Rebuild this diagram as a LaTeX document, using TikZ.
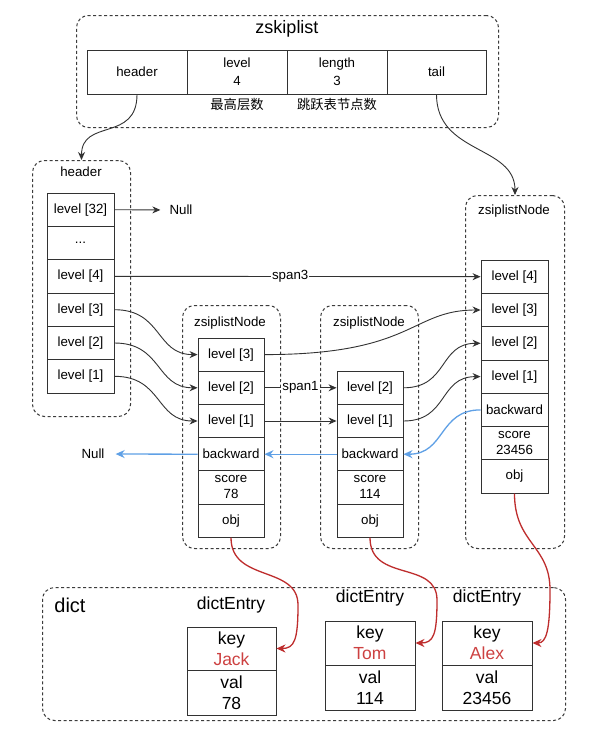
\documentclass[tikz,border=0pt]{standalone}
\usepackage{fontspec}
\setmainfont{Liberation Sans}
\newfontfamily\cjk{Noto Sans CJK SC}
\usetikzlibrary{arrows.meta}
\definecolor{ln}{RGB}{50,50,50}
\definecolor{dsh}{RGB}{60,60,60}
\definecolor{bl}{RGB}{95,160,230}
\definecolor{rd}{RGB}{190,45,45}
\definecolor{rdt}{RGB}{205,65,65}
\begin{document}
\begin{tikzpicture}[x=1pt,y=-1pt,
  grp/.style={draw=dsh, dash pattern=on 3pt off 2.5pt, rounded corners=12pt, line width=1pt, anchor=north west, inner sep=0pt},
  cell/.style={draw=ln, line width=0.9pt, minimum width=67pt, minimum height=33.3pt, inner sep=0pt, align=center, font=\fontsize{13.3}{16}\selectfont},
  zcell/.style={cell, minimum width=100pt, minimum height=44pt, font=\fontsize{13.3}{18}\selectfont},
  dcell/.style={draw=ln, line width=0.9pt, minimum width=89pt, inner sep=0pt, align=center, font=\fontsize{17.5}{21}\selectfont},
  lbl/.style={inner sep=0pt, font=\fontsize{13.3}{16}\selectfont},
  big/.style={inner sep=0pt, font=\fontsize{17.5}{21}\selectfont},
  arr/.style={draw=ln, line width=0.9pt, -{Stealth[length=8pt,width=7pt]}},
  barr/.style={draw=bl, line width=1.3pt, -{Stealth[length=9pt,width=8pt]}},
  rarr/.style={draw=rd, line width=1.3pt, -{Stealth[length=9pt,width=8pt]}}
]
\useasboundingbox (0,0) rectangle (591,736);
\fill[white] (0,0) rectangle (591,736);

% zskiplist
\node[grp, minimum width=422pt, minimum height=112pt] (zsl) at (76,15) {};
\node[inner sep=0pt, font=\fontsize{18}{20}\selectfont] (ztitle) at (287,29) {zskiplist};
\node[zcell] (zh) at (137,72) {header};
\node[zcell] (zl) at (237,72) {level\\4};
\node[zcell] (zn) at (337,72) {length\\3};
\node[zcell, minimum width=99pt] (zt) at (436.5,72) {tail};
\node[lbl] (zlc) at (237,104) {\cjk 最高层数};
\node[lbl] (znc) at (337,104) {\cjk 跳跃表节点数};

% header group
\node[grp, minimum width=98pt, minimum height=256pt] (hdr) at (32,160) {};
\node[lbl] (hdrl) at (81,172) {header};
\node[cell] (h32) at (80.5,209.7) {level [32]};
\node[cell] (hd) at (80.5,243) {...};
\node[cell] (h4) at (80.5,276.3) {level [4]};
\node[cell] (h3) at (80.5,309.7) {level [3]};
\node[cell] (h2) at (80.5,343) {level [2]};
\node[cell] (h1) at (80.5,376.3) {level [1]};
\node[lbl] (null1) at (181,210) {Null};

% node 1
\node[grp, minimum width=98pt, minimum height=243pt] (n1) at (182,305) {};
\node[lbl] (n1l) at (230,323) {zsiplistNode};
\node[cell, minimum width=66pt, minimum height=33.2pt] (a3) at (231,354.6) {level [3]};
\node[cell, minimum width=66pt, minimum height=33.2pt] (a2) at (231,387.8) {level [2]};
\node[cell, minimum width=66pt, minimum height=33.2pt] (a1) at (231,421) {level [1]};
\node[cell, minimum width=66pt, minimum height=33.2pt] (ab) at (231,454.2) {backward};
\node[cell, minimum width=66pt, minimum height=33.2pt] (as) at (231,487.4) {score\\78};
\node[cell, minimum width=66pt, minimum height=33.2pt] (ao) at (231,520.6) {obj};
\node[lbl] (null2) at (93,454) {Null};

% node 2
\node[grp, minimum width=98pt, minimum height=243pt] (n2) at (320,305) {};
\node[lbl] (n2l) at (369,323) {zsiplistNode};
\node[cell, minimum width=66pt, minimum height=33.2pt] (b2) at (370,387.8) {level [2]};
\node[cell, minimum width=66pt, minimum height=33.2pt] (b1) at (370,421) {level [1]};
\node[cell, minimum width=66pt, minimum height=33.2pt] (bb) at (370,454.2) {backward};
\node[cell, minimum width=66pt, minimum height=33.2pt] (bs) at (370,487.4) {score\\114};
\node[cell, minimum width=66pt, minimum height=33.2pt] (bo) at (370,520.6) {obj};

% node 3 (tail)
\node[grp, minimum width=99pt, minimum height=353pt] (n3) at (465,195) {};
\node[lbl] (n3l) at (514,211) {zsiplistNode};
\node[cell] (c4) at (514.5,276.7) {level [4]};
\node[cell] (c3) at (514.5,310) {level [3]};
\node[cell] (c2) at (514.5,343.3) {level [2]};
\node[cell] (c1) at (514.5,376.6) {level [1]};
\node[cell] (cb) at (514.5,409.9) {backward};
\node[cell] (cs) at (514.5,443.2) {score\\23456};
\node[cell] (co) at (514.5,476.5) {obj};

% dict
\node[grp, minimum width=523pt, minimum height=133pt] (dict) at (42,587) {};
\node[inner sep=0pt, font=\fontsize{20}{22}\selectfont] (dictl) at (70,605) {dict};
\node[big] (de1) at (231,605) {dictEntry};
\node[big] (de2) at (370,598) {dictEntry};
\node[big] (de3) at (487,598) {dictEntry};
\node[dcell, minimum height=43pt] (jk) at (231.5,648.5) {key\\\textcolor{rdt}{Jack}};
\node[dcell, minimum height=45pt] (jv) at (231.5,692.5) {val\\78};
\node[dcell, minimum width=90pt, minimum height=44pt] (tk) at (370,643) {key\\\textcolor{rdt}{Tom}};
\node[dcell, minimum width=90pt, minimum height=45pt] (tv) at (370,687.5) {val\\114};
\node[dcell, minimum width=90pt, minimum height=44pt] (ak) at (487,643) {key\\\textcolor{rdt}{Alex}};
\node[dcell, minimum width=90pt, minimum height=45pt] (av) at (487,687.5) {val\\23456};

% black connectors
\draw[arr] (zh.south) .. controls +(0,48) and +(0,-42) .. (hdr.north);
\draw[arr] (zt.south) .. controls +(0,60) and +(0,-50) .. (n3.north);
\draw[arr, shorten >=9pt] (h32.east) -- (null1.west);
\draw[arr] (h4.east) -- node[pos=0.48, fill=white, inner sep=1pt, font=\fontsize{13.3}{16}\selectfont] {span3} (c4.west);
\draw[arr] (h3.east) .. controls +(48,0) and +(-42,0) .. (a3.west);
\draw[arr] (h2.east) .. controls +(48,0) and +(-42,0) .. (a2.west);
\draw[arr] (h1.east) .. controls +(48,0) and +(-42,0) .. (a1.west);
\draw[arr] (a3.east) .. controls +(150,0) and +(-70,0) .. (c3.west);
\draw[arr] (a2.east) -- node[pos=0.5, fill=white, inner sep=1pt, font=\fontsize{13.3}{16}\selectfont] {span1} (b2.west);
\draw[arr] (a1.east) -- (b1.west);
\draw[arr] (b2.east) .. controls +(45,0) and +(-42,0) .. (c2.west);
\draw[arr] (b1.east) .. controls +(45,0) and +(-42,0) .. (c1.west);

% blue backward
\draw[barr] (cb.west) .. controls +(-42,0) and +(42,0) .. (bb.east);
\draw[barr] (bb.west) -- (ab.east);
\draw[barr, shorten >=11pt] (ab.west) -- (null2.east);

% red obj
\draw[rarr] (ao.south) .. controls +(0,45) and +(0,-40) .. (298,605) .. controls +(0,35) and +(18,0) .. (jk.east);
\draw[rarr] (bo.south) .. controls +(0,45) and +(0,-40) .. (437,600) .. controls +(0,35) and +(18,0) .. (tk.east);
\draw[rarr] (co.south) .. controls +(0,50) and +(0,-45) .. (550,590) .. controls +(0,40) and +(14,0) .. (ak.east);
\end{tikzpicture}
\end{document}
